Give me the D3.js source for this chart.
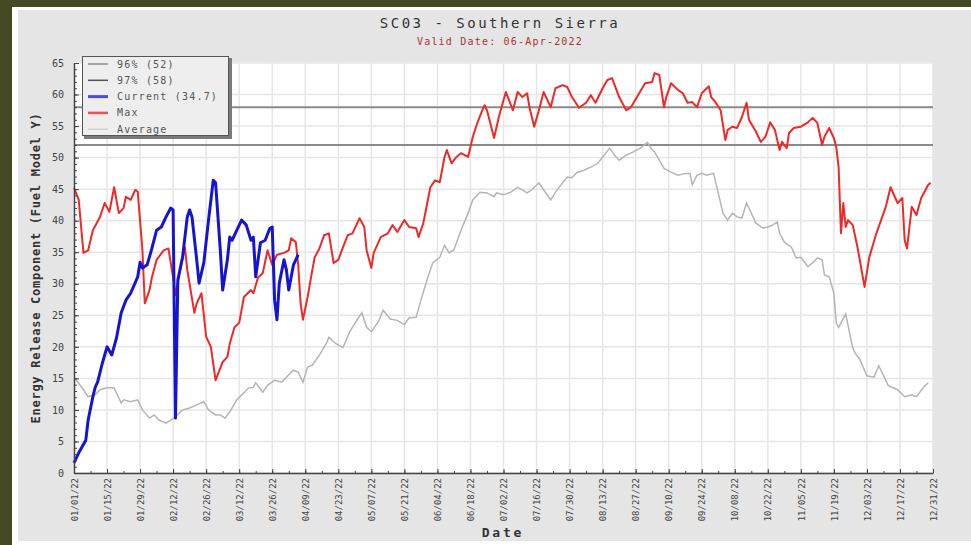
<!DOCTYPE html>
<html lang="en">
<head>
  <meta charset="UTF-8">
  <title>SC03 - Southern Sierra</title>
  <style>
    body { margin: 0; background: #454a24; }
    svg { display: block; }
    text { font-family: "DejaVu Sans Mono", monospace; }
  </style>
</head>
<body>
  <svg width="971" height="545"></svg>
  <script src="https://d3js.org/d3.v7.min.js"></script>
  <script>
    // [days since 01/01/22, ERC]
    var maxSeries = [
      [0,45.2],[2,43.3],[4,34.9],[6,35.3],[8,38.5],[11,40.6],[13,42.8],[15,41.4],[17,45.3],[19,41.2],
      [21,42.0],[22,43.8],[24,43.3],[26,44.9],[27,44.6],[29,35.3],[30,26.9],[32,29.0],[33,31.0],[35,33.8],
      [38,35.3],[40,35.6],[42,31.0],[43,28.2],[45,32.2],[47,35.8],[48,32.2],[51,25.4],[52,26.9],[54,28.5],
      [56,21.6],[58,20.0],[60,14.7],[63,17.6],[65,18.4],[66,20.5],[68,23.1],[70,23.8],[72,27.9],[75,29.0],
      [76,28.5],[78,31.0],[80,31.7],[82,35.3],[84,33.0],[86,34.6],[89,34.9],[91,35.3],[92,37.2],[94,36.6],
      [95,33.0],[96,27.0],[97,24.3],[99,27.9],[101,32.2],[102,34.2],[104,35.6],[106,37.7],[108,38.0],[110,33.3],
      [112,33.8],[114,35.8],[116,37.7],[118,38.0],[121,40.4],[123,39.0],[124,35.3],[126,32.5],[127,34.9],[130,37.4],
      [133,38.0],[135,39.3],[137,38.2],[140,40.1],[142,39.0],[145,38.8],[146,37.4],[148,39.6],[151,45.3],[153,46.4],
      [155,46.1],[157,50.1],[158,51.2],[160,49.1],[162,50.1],[164,50.7],[167,50.1],[169,53.3],[171,55.6],[173,57.5],
      [174,58.3],[175,57.5],[178,53.1],[180,56.4],[182,59.1],[183,60.4],[186,57.5],[188,60.4],[190,59.6],[192,60.2],
      [193,58.0],[195,54.9],[197,57.5],[199,60.4],[200,59.6],[202,58.0],[204,61.0],[207,61.5],[209,61.2],[211,59.6],
      [214,57.9],[217,58.7],[219,59.9],[221,58.7],[224,61.0],[226,62.3],[228,62.6],[231,59.6],[234,57.5],[236,58.0],
      [239,59.9],[242,61.8],[245,62.0],[246,63.4],[248,63.1],[250,58.0],[251,59.6],[253,61.8],[256,60.7],[258,60.2],
      [260,58.7],[262,58.8],[264,58.0],[266,60.2],[269,61.3],[270,59.6],[272,58.7],[274,57.5],[276,52.8],[277,54.4],
      [279,54.9],[281,54.7],[283,56.4],[285,58.7],[286,56.0],[289,54.1],[291,52.5],[293,53.3],[295,55.6],[297,54.4],
      [299,51.2],[300,52.5],[302,51.5],[303,53.9],[305,54.7],[308,54.9],[311,55.6],[313,56.3],[315,55.5],[317,52.0],
      [318,53.3],[320,54.7],[322,53.1],[323,51.7],[324,48.5],[325,38.0],[326,42.8],[327,39.0],[328,40.1],[330,39.3],
      [332,35.8],[335,29.5],[337,34.2],[340,38.0],[344,42.2],[346,45.3],[349,42.8],[351,43.6],[352,36.9],[353,35.6],
      [355,42.2],[357,40.9],[359,43.6],[362,45.7],[363,46.0]
    ];

    var avgSeries = [
      [0,14.8],[1,14.7],[4,13.2],[6,12.1],[9,12.4],[11,13.2],[14,13.5],[17,13.5],[20,11.1],[21,11.6],
      [24,11.3],[27,11.6],[29,10.0],[32,8.7],[34,9.2],[36,8.4],[39,7.9],[41,8.4],[43,8.9],[46,10.0],
      [49,10.3],[52,10.8],[55,11.3],[57,10.0],[60,9.2],[62,9.2],[64,8.7],[66,9.7],[69,11.6],[72,12.7],
      [74,13.5],[76,13.6],[77,14.3],[80,12.8],[82,13.9],[85,14.7],[88,14.4],[90,15.2],[93,16.3],[95,16.0],
      [97,14.4],[99,16.8],[101,17.1],[104,18.7],[107,20.6],[108,21.5],[111,20.5],[114,19.9],[117,22.5],[120,24.3],
      [122,25.4],[124,23.1],[126,22.4],[129,24.0],[131,25.8],[134,24.4],[137,24.2],[140,23.5],[142,24.6],[145,24.7],
      [147,27.4],[150,31.1],[152,33.3],[155,34.2],[157,36.1],[159,34.9],[161,35.4],[164,38.5],[167,41.2],[169,43.3],
      [172,44.5],[175,44.4],[178,43.8],[179,44.4],[182,44.1],[185,44.5],[188,45.3],[190,44.9],[192,44.4],[194,44.9],
      [197,46.0],[199,44.9],[202,43.3],[204,44.5],[207,46.0],[209,46.9],[211,46.8],[213,47.6],[216,48.0],[219,48.5],
      [222,49.1],[224,50.1],[227,51.5],[229,50.4],[231,49.6],[234,50.4],[237,50.9],[240,51.5],[243,52.4],[245,51.2],
      [246,50.9],[248,49.6],[250,48.3],[253,47.7],[256,47.2],[259,47.5],[261,47.5],[262,45.7],[264,47.2],[266,47.5],
      [268,47.2],[271,47.5],[273,44.4],[275,41.2],[277,40.1],[279,41.2],[281,40.6],[283,40.4],[285,42.8],[287,41.2],
      [289,39.6],[292,38.8],[294,39.0],[296,39.3],[298,39.8],[299,38.0],[301,36.6],[304,35.8],[306,34.1],[308,34.2],
      [311,32.7],[313,33.3],[315,34.1],[317,33.8],[318,31.4],[320,31.1],[322,28.5],[323,23.8],[324,23.1],[327,25.2],
      [329,21.6],[330,19.8],[331,19.0],[333,18.0],[336,15.4],[339,15.2],[341,17.0],[343,15.5],[345,13.9],[349,13.2],
      [352,12.1],[355,12.4],[357,12.1],[360,13.6],[362,14.3]
    ];

    var currentSeries = [
      [0,1.6],[2,3.2],[5,5.2],[6,8.4],[8,12.1],[9,13.6],[10,14.4],[12,17.4],[14,20.0],[16,18.7],
      [18,21.4],[20,25.4],[22,27.4],[24,28.5],[27,31.1],[28,33.4],[29,32.5],[31,33.0],[33,35.6],[35,38.5],
      [37,39.0],[39,40.6],[41,42.0],[42,41.7],[43,8.7],[44,30.6],[46,34.2],[48,40.6],[49,41.7],[50,40.6],
      [52,33.8],[53,30.1],[55,33.3],[57,40.1],[59,46.4],[60,46.0],[62,35.3],[63,29.0],[65,33.8],[66,37.4],
      [67,36.9],[69,38.5],[71,40.1],[73,39.3],[75,36.9],[76,37.4],[77,31.1],[79,36.5],[81,36.9],[83,38.8],
      [84,39.0],[85,27.4],[86,24.3],[87,30.1],[89,33.8],[90,32.2],[91,29.0],[93,33.0],[95,34.6]
    ];

    var pct96 = 52, pct97 = 58;
    var yTicks = d3.range(0, 70, 5);
    var legendLabels = ["96% (52)", "97% (58)", "Current (34.7)", "Max", "Average"];
    var titleText = "SC03 - Southern Sierra",
        subtitleText = "Valid Date: 06-Apr-2022",
        yLabelText = "Energy Release Component (Fuel Model Y)",
        xLabelText = "Date";

    var svg = d3.select("svg"),
        margin = {top: 63, right: 38, bottom: 72, left: 74},
        width = +svg.attr("width") - margin.left - margin.right,
        height = +svg.attr("height") - margin.top - margin.bottom;

    var start = new Date(2022, 0, 1);
    var toDate = function(n) { return d3.timeDay.offset(start, n); };

    var x = d3.scaleTime().domain([start, toDate(364)]).range([0, width]),
        y = d3.scaleLinear().domain([0, 65]).range([height, 0]);

    var majorTicks = d3.range(0, 365, 14).map(toDate),
        minorTicks = d3.range(0, 365, 7).map(toDate);

    // frame
    svg.append("rect").attr("x", 12).attr("y", 7).attr("width", 959).attr("height", 538).attr("fill", "#ffffff");
    svg.append("rect").attr("x", 18).attr("y", 10).attr("width", 953).attr("height", 531).attr("fill", "#e5e5e5");

    svg.append("text")
      .attr("x", 500).attr("y", 28)
      .attr("text-anchor", "middle")
      .style("font-size", "14px").style("letter-spacing", "2.5px")
      .attr("fill", "#333")
      .text(titleText);

    svg.append("text")
      .attr("x", 500).attr("y", 45)
      .attr("text-anchor", "middle")
      .style("font-size", "10px").style("letter-spacing", "1.2px")
      .attr("fill", "#a83434")
      .text(subtitleText);

    var g = svg.append("g").attr("transform", "translate(" + margin.left + "," + margin.top + ")");

    g.append("rect").attr("y", -1).attr("width", width).attr("height", height + 1).attr("fill", "#ffffff");

    // grid
    g.append("g").selectAll("line").data(majorTicks).enter().append("line")
      .attr("x1", function(d) { return x(d); }).attr("x2", function(d) { return x(d); })
      .attr("y1", 0).attr("y2", height)
      .attr("stroke", "#e6e6e6").attr("stroke-width", 1.5);
    g.append("g").selectAll("line").data(yTicks).enter().append("line")
      .attr("x1", 0).attr("x2", width)
      .attr("y1", function(d) { return y(d); }).attr("y2", function(d) { return y(d); })
      .attr("stroke", "#e6e6e6").attr("stroke-width", 1.5);

    // percentile lines
    [pct96, pct97].forEach(function(v) {
      g.append("line")
        .attr("x1", 0).attr("x2", width)
        .attr("y1", y(v)).attr("y2", y(v))
        .attr("stroke", "#8a8a8a").attr("stroke-width", 2);
    });

    var line = d3.line()
      .x(function(d) { return x(toDate(d[0])); })
      .y(function(d) { return y(d[1]); });

    g.append("path").datum(avgSeries).attr("d", line)
      .attr("fill", "none").attr("stroke", "#b5b5b5").attr("stroke-width", 1.5);
    g.append("path").datum(maxSeries).attr("d", line)
      .attr("fill", "none").attr("stroke", "#f02828").attr("stroke-width", 2).attr("stroke-linejoin", "round");
    g.append("path").datum(currentSeries).attr("d", line)
      .attr("fill", "none").attr("stroke", "#1414d2").attr("stroke-width", 3).attr("stroke-linejoin", "round");

    // axes
    var xAxis = g.append("g")
      .attr("transform", "translate(0," + height + ")")
      .call(d3.axisBottom(x).tickValues(majorTicks).tickSize(-4).tickSizeOuter(0).tickFormat(d3.timeFormat("%m/%d/%y")));
    xAxis.selectAll("text")
      .attr("transform", "rotate(-90)")
      .attr("text-anchor", "end")
      .attr("x", -5).attr("y", 0).attr("dy", "0.35em")
      .style("font-size", "9px")
      .attr("fill", "#444");
    g.append("g")
      .attr("transform", "translate(0," + height + ")")
      .call(d3.axisBottom(x).tickValues(minorTicks).tickSize(-2).tickSizeOuter(0).tickFormat(""))
      .select(".domain").remove();

    var yAxis = g.append("g")
      .call(d3.axisLeft(y).tickValues(yTicks).tickSize(-5).tickSizeOuter(0).tickPadding(10));
    yAxis.selectAll("text").style("font-size", "10px").attr("fill", "#444");
    g.append("g")
      .call(d3.axisLeft(y).tickValues(d3.range(0, 66, 1)).tickSize(-3).tickSizeOuter(0).tickFormat(""))
      .select(".domain").remove();

    g.selectAll(".domain").attr("stroke", "#444").attr("stroke-width", 1.5);
    g.selectAll(".tick line").attr("stroke", "#444");

    svg.append("text")
      .attr("transform", "translate(40," + (margin.top + height / 2) + ") rotate(-90)")
      .attr("text-anchor", "middle")
      .style("font-size", "12px").style("font-weight", "bold").style("letter-spacing", "0.75px")
      .attr("fill", "#333")
      .text(yLabelText);

    svg.append("text")
      .attr("x", 503).attr("y", 537)
      .attr("text-anchor", "middle")
      .style("font-size", "13px").style("font-weight", "bold").style("letter-spacing", "2.8px")
      .attr("fill", "#333")
      .text(xLabelText);

    // legend
    var legendStyles = [
      {color: "#8a8a8a", w: 1.5},
      {color: "#555555", w: 1.5},
      {color: "#4a4ae6", w: 3},
      {color: "#ee5252", w: 2.5},
      {color: "#c2c2c2", w: 1}
    ];
    var legend = svg.append("g").attr("transform", "translate(82,56)");
    legend.append("rect").attr("x", 2).attr("y", 2).attr("width", 148).attr("height", 81).attr("fill", "#7a7a7a");
    legend.append("rect").attr("x", 0.5).attr("y", 0.5).attr("width", 146).attr("height", 79)
      .attr("fill", "#eeeeee").attr("stroke", "#555").attr("stroke-width", 1);
    var item = legend.selectAll(".item").data(legendLabels).enter().append("g")
      .attr("class", "item")
      .attr("transform", function(d, i) { return "translate(0," + (8 + i * 16.3) + ")"; });
    item.append("line")
      .attr("x1", 6).attr("x2", 26)
      .attr("stroke", function(d, i) { return legendStyles[i].color; })
      .attr("stroke-width", function(d, i) { return legendStyles[i].w; });
    item.append("text")
      .attr("x", 35).attr("dy", "0.35em")
      .style("font-size", "10px").style("letter-spacing", "1.2px")
      .attr("fill", "#555")
      .text(function(d) { return d; });
  </script>
</body>
</html>
